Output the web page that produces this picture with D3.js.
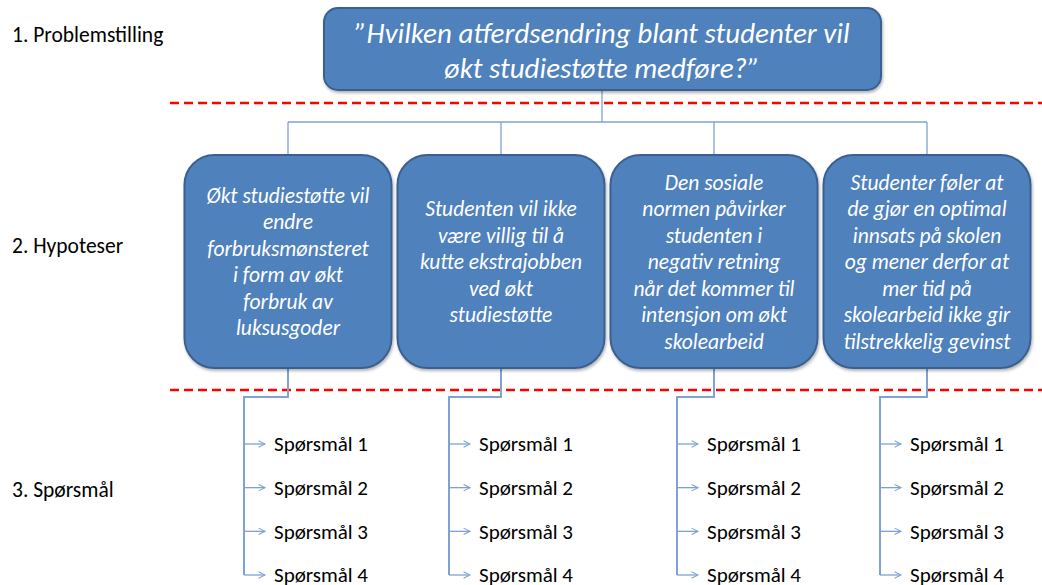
<!DOCTYPE html>
<html>
<head>
<meta charset="utf-8">
<title>Problemstilling</title>
<script src="https://d3js.org/d3.v7.min.js"></script>
<style>
  body { margin: 0; background: #fff; }
  text { font-family: Carlito, Lato, "Open Sans", sans-serif; }
</style>
</head>
<body>
<div id="diagram"></div>
<script>
// levels shown on the left
var levels = ["1. Problemstilling", "2. Hypoteser", "3. Spørsmål"];

// the research question
var problem = ["”Hvilken atferdsendring blant studenter vil", "økt studiestøtte medføre?”"];

// one entry per hypothesis, already broken into lines
var hypotheses = [
  ["Økt studiestøtte vil", "endre", "forbruksmønsteret", "i form av økt", "forbruk av", "luksusgoder"],
  ["Studenten vil ikke", "være villig til å", "kutte ekstrajobben", "ved økt", "studiestøtte"],
  ["Den sosiale", "normen påvirker", "studenten i", "negativ retning", "når det kommer til", "intensjon om økt", "skolearbeid"],
  ["Studenter føler at", "de gjør en optimal", "innsats på skolen", "og mener derfor at", "mer tid på", "skolearbeid ikke gir", "tilstrekkelig gevinst"]
];

// questions under each hypothesis
var questions = ["Spørsmål 1", "Spørsmål 2", "Spørsmål 3", "Spørsmål 4"];

var width = 1042, height = 585;
var boxFill = "#4f81bd", boxStroke = "#3a6190", lineCol = "#7ea3d2";

var svg = d3.select("#diagram")
  .append("svg")
    .attr("width", width)
    .attr("height", height);

var defs = svg.append("defs");
var f = defs.append("filter").attr("id", "shadow").attr("x", "-10%").attr("y", "-10%").attr("width", "130%").attr("height", "130%");
f.append("feDropShadow").attr("dx", 1).attr("dy", 2).attr("stdDeviation", 1.5).attr("flood-color", "#000").attr("flood-opacity", 0.3);

defs.append("marker")
    .attr("id", "arrow")
    .attr("viewBox", "0 0 10 10")
    .attr("refX", 9).attr("refY", 5)
    .attr("markerWidth", 8).attr("markerHeight", 8)
    .attr("markerUnits", "userSpaceOnUse")
    .attr("orient", "auto")
  .append("path")
    .attr("d", "M1,1 L9,5 L1,9")
    .attr("fill", "none")
    .attr("stroke", lineCol)
    .attr("stroke-width", 1.3);

// horizontal placement of the hypothesis boxes
var x = d3.scaleBand()
  .domain(d3.range(hypotheses.length))
  .range([181.5, 1033.5])
  .paddingInner(0.028)
  .paddingOuter(0.014);

// left labels
var levelY = d3.scaleOrdinal().domain(levels).range([34, 245, 489]);
svg.selectAll(".level")
  .data(levels)
  .enter().append("text")
    .attr("class", "level")
    .attr("x", 12)
    .attr("y", function(d) { return levelY(d); })
    .attr("dy", "0.35em")
    .attr("font-size", 21.5)
    .attr("fill", "#000")
    .text(function(d) { return d; });

// red dashed separators
[103, 390].forEach(function(yy) {
  svg.append("line")
    .attr("x1", 170).attr("x2", width)
    .attr("y1", yy).attr("y2", yy)
    .attr("stroke", "#ff0000")
    .attr("stroke-width", 2.5)
    .attr("stroke-dasharray", "9,5");
});

// connectors from problem to hypotheses
var topCx = 602, busY = 122;
var conn = svg.append("g").attr("fill", "none").attr("stroke", lineCol).attr("stroke-width", 1.3);
conn.append("line").attr("x1", topCx).attr("x2", topCx).attr("y1", 90).attr("y2", busY);
conn.append("line")
  .attr("x1", x(0) + x.bandwidth() / 2)
  .attr("x2", x(hypotheses.length - 1) + x.bandwidth() / 2)
  .attr("y1", busY).attr("y2", busY);
hypotheses.forEach(function(h, i) {
  var cx = x(i) + x.bandwidth() / 2;
  conn.append("line").attr("x1", cx).attr("x2", cx).attr("y1", busY).attr("y2", 156);
});

// problem box
svg.append("rect")
  .attr("x", 324).attr("y", 8)
  .attr("width", 557).attr("height", 82)
  .attr("rx", 14)
  .attr("fill", boxFill)
  .attr("stroke", boxStroke)
  .attr("stroke-width", 2)
  .attr("filter", "url(#shadow)");
svg.selectAll(".problem")
  .data(problem)
  .enter().append("text")
    .attr("class", "problem")
    .attr("x", topCx)
    .attr("y", function(d, i) { return 33 + i * 35; })
    .attr("dy", "0.35em")
    .attr("text-anchor", "middle")
    .attr("font-size", 29)
    .attr("font-style", "italic")
    .attr("fill", "#fff")
    .text(function(d) { return d; });

// question branches under each hypothesis
var branchOffset = [44, 52, 37, 47];
var qy = d3.scalePoint().domain(questions).range([444, 575]);
var dropY = 397;

hypotheses.forEach(function(h, i) {
  var cx = x(i) + x.bandwidth() / 2;
  var bx = cx - branchOffset[i];
  var g = svg.append("g");
  g.append("path")
    .attr("d", d3.line()([[cx, 367], [cx, dropY], [bx, dropY], [bx, qy(questions[questions.length - 1])]]))
    .attr("fill", "none")
    .attr("stroke", lineCol)
    .attr("stroke-width", 2);
  g.selectAll(".arr")
    .data(questions)
    .enter().append("line")
      .attr("x1", bx).attr("x2", bx + 21)
      .attr("y1", function(d) { return qy(d); })
      .attr("y2", function(d) { return qy(d); })
      .attr("stroke", lineCol)
      .attr("stroke-width", 1.3)
      .attr("marker-end", "url(#arrow)");
  g.selectAll(".q")
    .data(questions)
    .enter().append("text")
      .attr("x", bx + 30)
      .attr("y", function(d) { return qy(d); })
      .attr("dy", "0.35em")
      .attr("font-size", 21)
      .attr("fill", "#000")
      .text(function(d) { return d; });
});

// hypothesis boxes
var boxTop = 155, boxH = 213;
var hg = svg.selectAll(".hyp")
  .data(hypotheses)
  .enter().append("g")
    .attr("class", "hyp")
    .attr("transform", function(d, i) { return "translate(" + x(i) + "," + boxTop + ")"; });

hg.append("rect")
  .attr("width", x.bandwidth())
  .attr("height", boxH)
  .attr("rx", 30)
  .attr("fill", boxFill)
  .attr("stroke", boxStroke)
  .attr("stroke-width", 2)
  .attr("filter", "url(#shadow)");

hg.each(function(lines) {
  var lh = 26.5;
  var y0 = boxH / 2 - (lines.length - 1) * lh / 2;
  d3.select(this).selectAll("text")
    .data(lines)
    .enter().append("text")
      .attr("x", x.bandwidth() / 2)
      .attr("y", function(d, j) { return y0 + j * lh; })
      .attr("dy", "0.35em")
      .attr("text-anchor", "middle")
      .attr("font-size", 21.5)
      .attr("font-style", "italic")
      .attr("fill", "#fff")
      .text(function(d) { return d; });
});
</script>
</body>
</html>
